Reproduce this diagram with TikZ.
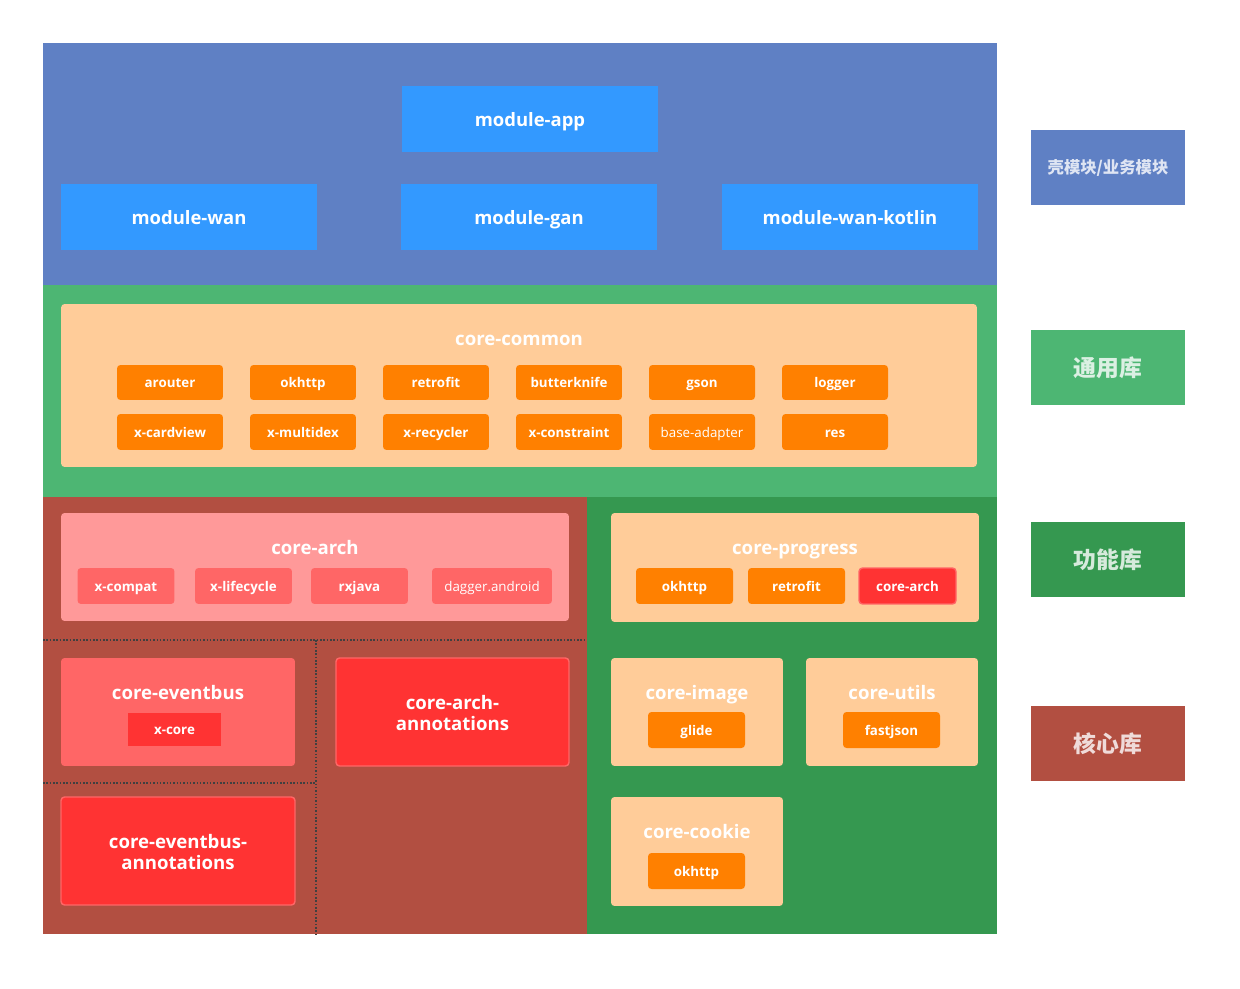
\documentclass[tikz,border=0pt]{standalone}
\usepackage{fontspec}
\setmainfont{Open Sans}
\newfontfamily\cjk{Noto Sans CJK SC}
\usetikzlibrary{positioning}

\definecolor{shellblue}{HTML}{5F80C4}
\definecolor{commongreen}{HTML}{4DB673}
\definecolor{funcgreen}{HTML}{359850}
\definecolor{corered}{HTML}{B24F41}
\definecolor{modblue}{HTML}{3399FF}
\definecolor{peach}{HTML}{FFCC99}
\definecolor{liborange}{HTML}{FF8000}
\definecolor{pink}{HTML}{FF9999}
\definecolor{salmon}{HTML}{FF6666}
\definecolor{brightred}{HTML}{FF3333}

\begin{document}
\begin{tikzpicture}[x=0.02cm, y=-0.02cm,
  module/.style={fill=modblue, text=white, inner sep=0pt,
    font=\bfseries\fontsize{10.5}{12}\selectfont,
    text height=1em, text depth=0.15em,
    minimum width=5.12cm, minimum height=1.32cm},
  group/.style={fill=#1, rounded corners=2pt, inner sep=0pt},
  title/.style={text=white, inner sep=0pt, align=center,
    font=\bfseries\fontsize{10.6}{12.5}\selectfont},
  onetitle/.style={title, text height=1em, text depth=0.15em},
  lib/.style={fill=#1, text=white, rounded corners=2pt, inner sep=0pt,
    font=\bfseries\fontsize{7.6}{9}\selectfont,
    text height=0.82em, text depth=0.2em,
    minimum width=1.94cm, minimum height=0.72cm},
  lib/.default=liborange,
  redbox/.style={fill=brightred, draw=salmon, line width=0.8pt},
  legend/.style={fill=#1, text=white, text opacity=0.8, inner sep=0pt,
    font=\cjk\bfseries\fontsize{13}{15}\selectfont,
    minimum width=3.08cm, minimum height=1.5cm},
  divider/.style={densely dotted, line width=0.9pt, black!75}
]
  \useasboundingbox (0,0) rectangle (1240,989);

  % layers
  \fill[shellblue] (43,43) rectangle (997,285);
  \fill[commongreen] (43,285) rectangle (997,497);
  \fill[corered] (43,497) rectangle (587,934);
  \fill[funcgreen] (587,497) rectangle (997,934);

  % shell / business modules
  \node[module] (app) at (530,119) {module-app};
  \node[module] (wan) at (189,217) {module-wan};
  \node[module] (gan) at (529,217) {module-gan};
  \node[module] (kotlin) at (850,217) {module-wan-kotlin};

  % core-common
  \node[group=peach, minimum width=18.32cm, minimum height=3.26cm] (common) at (519,385.5) {};
  \node[onetitle] (common-t) at (519,338) {core-common};
  \foreach \name [count=\i] in {arouter, okhttp, retrofit, butterknife, gson, logger}
    \node[lib, minimum width=2.12cm, minimum height=0.7cm] (common-a\i) at ({170+133*(\i-1)},382.5) {\name};
  \foreach \name [count=\i] in {x-cardview, x-multidex, x-recycler, x-constraint, {\mdseries base-adapter}, res}
    \node[lib, minimum width=2.12cm, minimum height=0.72cm] (common-b\i) at ({170+133*(\i-1)},432) {\name};

  % core libraries
  \node[group=pink, minimum width=10.16cm, minimum height=2.16cm] (arch) at (315,567) {};
  \node[onetitle] (arch-t) at (315,547) {core-arch};
  \node[lib=salmon] (arch-1) at (126,586) {x-compat};
  \node[lib=salmon] (arch-2) at (243.5,586) {x-lifecycle};
  \node[lib=salmon] (arch-3) at (359.5,586) {rxjava};
  \node[lib=salmon, minimum width=2.4cm, font=\fontsize{7.6}{9}\selectfont] (arch-4) at (492,586) {dagger.android};

  \draw[divider] (43,640) -- (587,640);
  \draw[divider] (316,640) -- (316,934);
  \draw[divider] (43,783) -- (316,783);

  \node[group=salmon, minimum width=4.68cm, minimum height=2.16cm] (eventbus) at (178,712) {};
  \node[onetitle] (eventbus-t) at (178,692) {core-eventbus};
  \node[lib=brightred, rounded corners=0pt, minimum width=1.86cm, minimum height=0.66cm] (xcore) at (174.5,729.5) {x-core};

  \node[group=brightred, redbox, minimum width=4.66cm, minimum height=2.16cm] (archanno) at (452.5,712) {};
  \node[title] (archanno-t) at (452.5,713) {core-arch-\\annotations};
  \node[group=brightred, redbox, minimum width=4.68cm, minimum height=2.16cm] (busanno) at (178,851) {};
  \node[title] (busanno-t) at (178,852) {core-eventbus-\\annotations};

  % functional libraries
  \node[group=peach, minimum width=7.36cm, minimum height=2.18cm] (progress) at (795,567.5) {};
  \node[onetitle] (progress-t) at (795,547) {core-progress};
  \node[lib] (progress-1) at (684.5,586) {okhttp};
  \node[lib] (progress-2) at (796.5,586) {retrofit};
  \node[lib=brightred, draw=salmon, line width=0.8pt] (progress-3) at (907.5,586) {core-arch};

  \node[group=peach, minimum width=3.44cm, minimum height=2.16cm] (image) at (697,712) {};
  \node[onetitle] (image-t) at (697,692) {core-image};
  \node[lib] (glide) at (696.5,730) {glide};

  \node[group=peach, minimum width=3.44cm, minimum height=2.16cm] (utils) at (892,712) {};
  \node[onetitle] (utils-t) at (892,692) {core-utils};
  \node[lib] (fastjson) at (891.5,730) {fastjson};

  \node[group=peach, minimum width=3.44cm, minimum height=2.18cm] (cookie) at (697,851.5) {};
  \node[onetitle] (cookie-t) at (697,831) {core-cookie};
  \node[lib] (cookie-1) at (696.5,871) {okhttp};

  % legend
  \node[legend=shellblue, font=\cjk\bfseries\fontsize{9.3}{11}\selectfont] (leg-shell) at (1108,167.5) {壳模块/业务模块};
  \node[legend=commongreen] (leg-common) at (1108,367.5) {通用库};
  \node[legend=funcgreen] (leg-func) at (1108,559.5) {功能库};
  \node[legend=corered] (leg-core) at (1108,743.5) {核心库};
\end{tikzpicture}
\end{document}
